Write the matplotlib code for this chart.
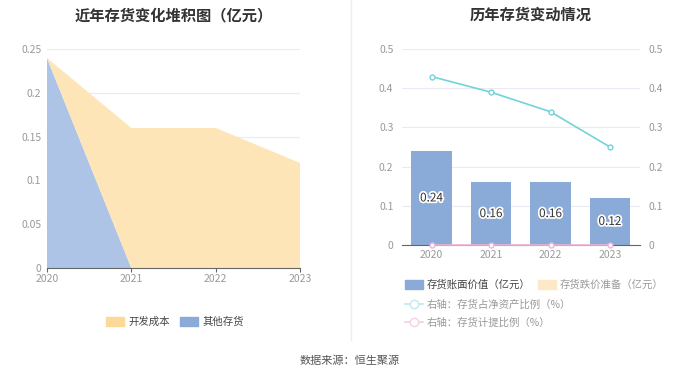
import matplotlib.pyplot as plt
import matplotlib.patches as mpatches
from matplotlib.lines import Line2D
import matplotlib.patheffects as pe

plt.rcParams['font.family'] = ['Noto Sans CJK SC', 'DejaVu Sans']

years = ['2020', '2021', '2022', '2023']
other_stock = [0.24, 0, 0, 0]
dev_cost = [0, 0.16, 0.16, 0.12]
book_value = [0.24, 0.16, 0.16, 0.12]
impair = [0, 0, 0, 0]
net_asset_ratio = [0.43, 0.39, 0.34, 0.25]
provision_ratio = [0, 0, 0, 0]

blue = '#8aaad8'
yellow = '#fdd999'
cyan = '#72d3d8'
pink = '#f0b3d6'
grid_c = '#e8ebf3'
tick_c = '#999999'

fig = plt.figure(figsize=(7, 3.78), dpi=100)

# ---- left: stacked area
ax1 = fig.add_axes([0.067, 0.291, 0.3616, 0.579])
x = list(range(len(years)))
ax1.stackplot(x, other_stock, dev_cost, colors=['#aec4e6', '#fde5b8'], lw=0)
ax1.set_xlim(0, 3)
ax1.set_ylim(0, 0.25)
ax1.set_yticks([0, 0.05, 0.1, 0.15, 0.2, 0.25])
ax1.set_yticklabels(['0', '0.05', '0.1', '0.15', '0.2', '0.25'])
ax1.set_xticks(x)
ax1.set_xticklabels(years)
ax1.grid(axis='y', color=grid_c, lw=0.8)
ax1.set_axisbelow(True)
for s in ['top', 'right', 'left']:
    ax1.spines[s].set_visible(False)
ax1.spines['bottom'].set_color('#666666')
ax1.tick_params(axis='y', length=0, labelsize=7.5, colors=tick_c, pad=4)
ax1.tick_params(axis='x', length=3, color='#666666', labelsize=7.5, labelcolor=tick_c, pad=1)
ax1.set_title('近年存货变化堆积图（亿元）', fontsize=11, fontweight='bold', color='#333333', x=0.5, pad=21)

h1 = [mpatches.Patch(color=yellow, label='开发成本'), mpatches.Patch(color=blue, label='其他存货')]
fig.legend(handles=h1, loc='center', bbox_to_anchor=(0.25, 0.148), ncol=2, frameon=False,
           fontsize=7.5, handlelength=1.7, handleheight=0.9, columnspacing=1.0, handletextpad=0.4,
           labelcolor='#444444')

# ---- right: bars + lines
ax2 = fig.add_axes([0.574, 0.352, 0.34, 0.518])
ax2.bar(x, book_value, width=0.68, color=blue, zorder=2)
for xi, v in zip(x, book_value):
    ax2.text(xi, v / 2, f'{v:.2f}', ha='center', va='center', fontsize=8.5, color='#333333',
             path_effects=[pe.withStroke(linewidth=2.5, foreground='white')], zorder=4)
ax2.set_xlim(-0.5, 3.5)
ax2.set_ylim(0, 0.5)
ax2.set_yticks([0, 0.1, 0.2, 0.3, 0.4, 0.5])
ax2.set_yticklabels(['0', '0.1', '0.2', '0.3', '0.4', '0.5'])
ax2.set_xticks(x)
ax2.set_xticklabels(years)
ax2.grid(axis='y', color=grid_c, lw=0.8)
ax2.set_axisbelow(True)
for s in ['top', 'right', 'left']:
    ax2.spines[s].set_visible(False)
ax2.spines['bottom'].set_color('#666666')
ax2.tick_params(axis='y', length=0, labelsize=7.5, colors=tick_c, pad=6)
ax2.tick_params(axis='x', length=0, labelsize=7.5, labelcolor=tick_c, pad=4)
ax2.set_title('历年存货变动情况', fontsize=11, fontweight='bold', color='#333333', x=0.54, pad=21)

ax3 = ax2.twinx()
ax3.plot(x, net_asset_ratio, color=cyan, lw=1.2, marker='o', ms=3.5, mfc='white', mec=cyan, mew=1, zorder=5)
ax3.plot(x, provision_ratio, color=pink, lw=1.2, marker='o', ms=3.5, mfc='white', mec=pink, mew=1,
         zorder=5, clip_on=False)
ax3.set_ylim(0, 0.5)
ax3.set_yticks([0, 0.1, 0.2, 0.3, 0.4, 0.5])
ax3.set_yticklabels(['0', '0.1', '0.2', '0.3', '0.4', '0.5'])
for s in ['top', 'right', 'left', 'bottom']:
    ax3.spines[s].set_visible(False)
ax3.tick_params(axis='y', length=0, labelsize=7.5, colors=tick_c, pad=6)

h2 = [mpatches.Patch(color=blue, label='存货账面价值（亿元）'),
      mpatches.Patch(color='#fde8c8', label='存货跌价准备（亿元）')]
leg2 = fig.legend(handles=h2, loc='upper left', bbox_to_anchor=(0.565, 0.285), ncol=2, frameon=False,
                  fontsize=7.5, handlelength=1.7, handleheight=0.9, columnspacing=0.7, handletextpad=0.4)
leg2.get_texts()[0].set_color('#444444')
leg2.get_texts()[1].set_color('#999999')
h3 = [Line2D([0], [0], color='#bfe9ec', lw=1.2, marker='o', ms=6, mfc='white', mec='#bfe9ec',
             label='右轴：存货占净资产比例（%）'),
      Line2D([0], [0], color='#f5d0e6', lw=1.2, marker='o', ms=6, mfc='white', mec='#f5d0e6',
             label='右轴：存货计提比例（%）')]
fig.legend(handles=h3, loc='upper left', bbox_to_anchor=(0.565, 0.232), ncol=1, frameon=False,
           fontsize=7.5, handlelength=1.7, handletextpad=0.4, labelspacing=0.75, labelcolor='#999999')

# separator and source
fig.add_artist(Line2D([0.502, 0.502], [0.1, 1.0], color='#eeeeee', lw=1, transform=fig.transFigure))
fig.text(0.5, 0.045, '数据来源：恒生聚源', ha='center', va='center', fontsize=8, color='#555555')

plt.savefig('out.png')
plt.close()
